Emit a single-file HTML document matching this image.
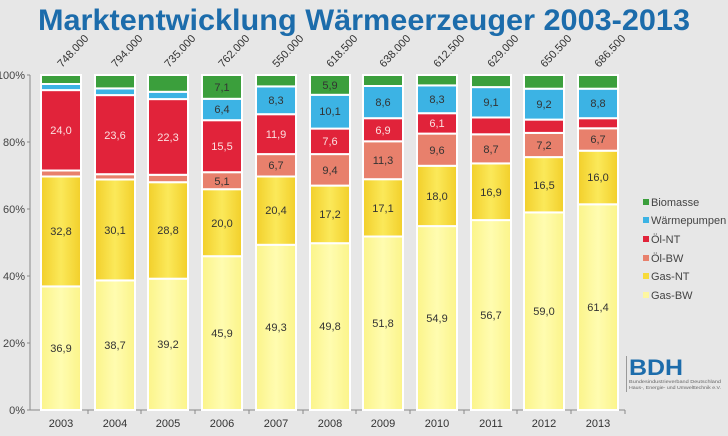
<!DOCTYPE html>
<html><head><meta charset="utf-8"><style>
body{margin:0;background:#e7e7e7;}
svg{display:block;font-family:"Liberation Sans",sans-serif;}
.l{font-size:11px;fill:#333;text-anchor:middle}
.w{font-size:11px;fill:#fbe0e0;text-anchor:middle}
.t{font-size:11px;fill:#333;text-anchor:middle}
.g{font-size:11px;fill:#444;text-anchor:end}
.lg{font-size:11px;fill:#444}
</style></head><body>
<svg width="728" height="436" viewBox="0 0 728 436">
<defs>
<linearGradient id="gn" x1="0" x2="1"><stop offset="0" stop-color="#f2cf2a"/><stop offset="0.5" stop-color="#fbe95a"/><stop offset="1" stop-color="#f2cf2a"/></linearGradient>
<linearGradient id="gb" x1="0" x2="1"><stop offset="0" stop-color="#fbf48a"/><stop offset="0.5" stop-color="#fffcb0"/><stop offset="1" stop-color="#fbf48a"/></linearGradient>
</defs>
<rect width="728" height="436" fill="#e7e7e7"/>
<text x="364" y="30" font-size="30" font-weight="bold" fill="#1c6cab" text-anchor="middle" textLength="652" lengthAdjust="spacingAndGlyphs">Marktentwicklung Wärmeerzeuger 2003-2013</text>

<line x1="30" y1="75" x2="30" y2="410" stroke="#888"/>
<line x1="30" y1="410" x2="625" y2="410" stroke="#888"/>
<g stroke="#888"><line x1="27" y1="75" x2="30" y2="75"/><line x1="27" y1="142" x2="30" y2="142"/><line x1="27" y1="209" x2="30" y2="209"/><line x1="27" y1="276" x2="30" y2="276"/><line x1="27" y1="343" x2="30" y2="343"/><line x1="27" y1="410" x2="30" y2="410"/></g>
<text class="g" x="25" y="79">100%</text><text class="g" x="25" y="146">80%</text><text class="g" x="25" y="213">60%</text><text class="g" x="25" y="280">40%</text><text class="g" x="25" y="347">20%</text><text class="g" x="25" y="414">0%</text>

<g stroke="#ffffff" stroke-width="2">
<rect x="41" y="286.4" width="40" height="123.6" fill="url(#gb)"/><rect x="41" y="176.5" width="40" height="109.9" fill="url(#gn)"/><rect x="41" y="170.5" width="40" height="6" fill="#e8806c"/><rect x="41" y="90.1" width="40" height="80.4" fill="#e1233a"/><rect x="41" y="84" width="40" height="6.1" fill="#3cb3e4"/><rect x="41" y="75" width="40" height="9" fill="#3b9f3c"/>
<rect x="95" y="280.4" width="40" height="129.6" fill="url(#gb)"/><rect x="95" y="179.5" width="40" height="100.9" fill="url(#gn)"/><rect x="95" y="174.2" width="40" height="5.3" fill="#e8806c"/><rect x="95" y="95.1" width="40" height="79.1" fill="#e1233a"/><rect x="95" y="88.4" width="40" height="6.7" fill="#3cb3e4"/><rect x="95" y="75" width="40" height="13.4" fill="#3b9f3c"/>
<rect x="148" y="278.7" width="40" height="131.3" fill="url(#gb)"/><rect x="148" y="182.2" width="40" height="96.5" fill="url(#gn)"/><rect x="148" y="174.8" width="40" height="7.4" fill="#e8806c"/><rect x="148" y="99.1" width="40" height="75.7" fill="#e1233a"/><rect x="148" y="91.8" width="40" height="7.3" fill="#3cb3e4"/><rect x="148" y="75" width="40" height="16.8" fill="#3b9f3c"/>
<rect x="202" y="256.2" width="40" height="153.8" fill="url(#gb)"/><rect x="202" y="189.2" width="40" height="67" fill="url(#gn)"/><rect x="202" y="172.2" width="40" height="17" fill="#e8806c"/><rect x="202" y="120.2" width="40" height="52" fill="#e1233a"/><rect x="202" y="98.8" width="40" height="21.4" fill="#3cb3e4"/><rect x="202" y="75" width="40" height="23.8" fill="#3b9f3c"/>
<rect x="256" y="244.8" width="40" height="165.2" fill="url(#gb)"/><rect x="256" y="176.5" width="40" height="68.3" fill="url(#gn)"/><rect x="256" y="154.1" width="40" height="22.4" fill="#e8806c"/><rect x="256" y="114.2" width="40" height="39.9" fill="#e1233a"/><rect x="256" y="86.4" width="40" height="27.8" fill="#3cb3e4"/><rect x="256" y="75" width="40" height="11.4" fill="#3b9f3c"/>
<rect x="310" y="243.2" width="40" height="166.8" fill="url(#gb)"/><rect x="310" y="185.6" width="40" height="57.6" fill="url(#gn)"/><rect x="310" y="154.1" width="40" height="31.5" fill="#e8806c"/><rect x="310" y="128.6" width="40" height="25.5" fill="#e1233a"/><rect x="310" y="94.8" width="40" height="33.8" fill="#3cb3e4"/><rect x="310" y="75" width="40" height="19.8" fill="#3b9f3c"/>
<rect x="363" y="236.5" width="40" height="173.5" fill="url(#gb)"/><rect x="363" y="179.2" width="40" height="57.3" fill="url(#gn)"/><rect x="363" y="141.3" width="40" height="37.9" fill="#e8806c"/><rect x="363" y="118.2" width="40" height="23.1" fill="#e1233a"/><rect x="363" y="86" width="40" height="32.2" fill="#3cb3e4"/><rect x="363" y="75" width="40" height="11" fill="#3b9f3c"/>
<rect x="417" y="226.1" width="40" height="183.9" fill="url(#gb)"/><rect x="417" y="165.8" width="40" height="60.3" fill="url(#gn)"/><rect x="417" y="133.6" width="40" height="32.2" fill="#e8806c"/><rect x="417" y="113.2" width="40" height="20.4" fill="#e1233a"/><rect x="417" y="85.4" width="40" height="27.8" fill="#3cb3e4"/><rect x="417" y="75" width="40" height="10.4" fill="#3b9f3c"/>
<rect x="471" y="220.1" width="40" height="189.9" fill="url(#gb)"/><rect x="471" y="163.4" width="40" height="56.7" fill="url(#gn)"/><rect x="471" y="134.3" width="40" height="29.1" fill="#e8806c"/><rect x="471" y="117.5" width="40" height="16.8" fill="#e1233a"/><rect x="471" y="87.1" width="40" height="30.4" fill="#3cb3e4"/><rect x="471" y="75" width="40" height="12.1" fill="#3b9f3c"/>
<rect x="524" y="212.4" width="40" height="197.6" fill="url(#gb)"/><rect x="524" y="157.1" width="40" height="55.3" fill="url(#gn)"/><rect x="524" y="132.9" width="40" height="24.2" fill="#e8806c"/><rect x="524" y="119.6" width="40" height="13.3" fill="#e1233a"/><rect x="524" y="88.7" width="40" height="30.9" fill="#3cb3e4"/><rect x="524" y="75" width="40" height="13.7" fill="#3b9f3c"/>
<rect x="578" y="204.3" width="40" height="205.7" fill="url(#gb)"/><rect x="578" y="150.7" width="40" height="53.6" fill="url(#gn)"/><rect x="578" y="128.3" width="40" height="22.4" fill="#e8806c"/><rect x="578" y="118.2" width="40" height="10.1" fill="#e1233a"/><rect x="578" y="88.7" width="40" height="29.5" fill="#3cb3e4"/><rect x="578" y="75" width="40" height="13.7" fill="#3b9f3c"/>
</g>

<text class="l" x="61" y="352">36,9</text><text class="l" x="61" y="235">32,8</text><text class="w" x="61" y="134">24,0</text>
<text class="l" x="115" y="349">38,7</text><text class="l" x="115" y="234">30,1</text><text class="w" x="115" y="139">23,6</text>
<text class="l" x="168" y="348">39,2</text><text class="l" x="168" y="234">28,8</text><text class="w" x="168" y="141">22,3</text>
<text class="l" x="222" y="337">45,9</text><text class="l" x="222" y="227">20,0</text><text class="l" x="222" y="185">5,1</text><text class="w" x="222" y="150">15,5</text><text class="l" x="222" y="113">6,4</text><text class="l" x="222" y="91">7,1</text>
<text class="l" x="276" y="331">49,3</text><text class="l" x="276" y="214">20,4</text><text class="l" x="276" y="169">6,7</text><text class="w" x="276" y="138">11,9</text><text class="l" x="276" y="104">8,3</text>
<text class="l" x="330" y="330">49,8</text><text class="l" x="330" y="218">17,2</text><text class="l" x="330" y="174">9,4</text><text class="w" x="330" y="145">7,6</text><text class="l" x="330" y="115">10,1</text><text class="l" x="330" y="89">5,9</text>
<text class="l" x="383" y="327">51,8</text><text class="l" x="383" y="212">17,1</text><text class="l" x="383" y="164">11,3</text><text class="w" x="383" y="134">6,9</text><text class="l" x="383" y="106">8,6</text>
<text class="l" x="437" y="322">54,9</text><text class="l" x="437" y="200">18,0</text><text class="l" x="437" y="154">9,6</text><text class="w" x="437" y="127">6,1</text><text class="l" x="437" y="103">8,3</text>
<text class="l" x="491" y="319">56,7</text><text class="l" x="491" y="196">16,9</text><text class="l" x="491" y="153">8,7</text><text class="l" x="491" y="106">9,1</text>
<text class="l" x="544" y="315">59,0</text><text class="l" x="544" y="189">16,5</text><text class="l" x="544" y="149">7,2</text><text class="l" x="544" y="108">9,2</text>
<text class="l" x="598" y="311">61,4</text><text class="l" x="598" y="181">16,0</text><text class="l" x="598" y="143">6,7</text><text class="l" x="598" y="107">8,8</text>

<g font-size="11" fill="#333">
<text transform="translate(62,68) rotate(-47)">748.000</text>
<text transform="translate(116,68) rotate(-47)">794.000</text>
<text transform="translate(169,68) rotate(-47)">735.000</text>
<text transform="translate(223,68) rotate(-47)">762.000</text>
<text transform="translate(277,68) rotate(-47)">550.000</text>
<text transform="translate(331,68) rotate(-47)">618.500</text>
<text transform="translate(384,68) rotate(-47)">638.000</text>
<text transform="translate(438,68) rotate(-47)">612.500</text>
<text transform="translate(492,68) rotate(-47)">629.000</text>
<text transform="translate(545,68) rotate(-47)">650.500</text>
<text transform="translate(599,68) rotate(-47)">686.500</text>
</g>

<g stroke="#888"><line x1="88" y1="410" x2="88" y2="414"/><line x1="141" y1="410" x2="141" y2="414"/><line x1="195" y1="410" x2="195" y2="414"/><line x1="249" y1="410" x2="249" y2="414"/><line x1="303" y1="410" x2="303" y2="414"/><line x1="356" y1="410" x2="356" y2="414"/><line x1="410" y1="410" x2="410" y2="414"/><line x1="464" y1="410" x2="464" y2="414"/><line x1="517" y1="410" x2="517" y2="414"/><line x1="571" y1="410" x2="571" y2="414"/><line x1="625" y1="410" x2="625" y2="414"/></g>
<text class="t" x="61" y="427">2003</text><text class="t" x="115" y="427">2004</text><text class="t" x="168" y="427">2005</text><text class="t" x="222" y="427">2006</text><text class="t" x="276" y="427">2007</text><text class="t" x="330" y="427">2008</text><text class="t" x="383" y="427">2009</text><text class="t" x="437" y="427">2010</text><text class="t" x="491" y="427">2011</text><text class="t" x="544" y="427">2012</text><text class="t" x="598" y="427">2013</text>

<rect x="643" y="199" width="6" height="6" fill="#3b9f3c"/><text class="lg" x="651" y="206">Biomasse</text>
<rect x="643" y="217" width="6" height="6" fill="#3cb3e4"/><text class="lg" x="651" y="224">Wärmepumpen</text>
<rect x="643" y="236" width="6" height="6" fill="#e1233a"/><text class="lg" x="651" y="243">Öl-NT</text>
<rect x="643" y="255" width="6" height="6" fill="#e8806c"/><text class="lg" x="651" y="262">Öl-BW</text>
<rect x="643" y="273" width="6" height="6" fill="#f7db3a"/><text class="lg" x="651" y="280">Gas-NT</text>
<rect x="643" y="292" width="6" height="6" fill="#fdf6a0"/><text class="lg" x="651" y="299">Gas-BW</text>

<line x1="626.5" y1="356" x2="626.5" y2="392" stroke="#999"/>
<text x="629" y="375" font-size="22" font-weight="bold" fill="#1c6cab" textLength="54" lengthAdjust="spacingAndGlyphs">BDH</text>
<text x="629" y="383" font-size="4.5" fill="#666" textLength="92" lengthAdjust="spacingAndGlyphs">Bundesindustrieverband Deutschland</text>
<text x="629" y="389" font-size="4.5" fill="#666" textLength="92" lengthAdjust="spacingAndGlyphs">Haus-, Energie- und Umwelttechnik e.V.</text>
</svg>
</body></html>
